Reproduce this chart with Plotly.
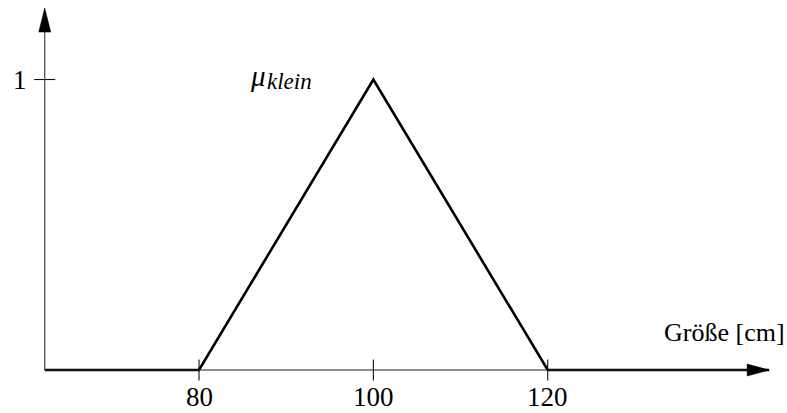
import plotly.graph_objects as go

# Membership function "klein" (triangular) over body height in cm
height_cm = [62.3, 80, 100, 120, 145.4]
membership = [0, 0, 1, 0, 0]

x_ticks = [80, 100, 120]
x_tick_labels = ["80", "100", "120"]
y_ticks = [1]
y_tick_labels = ["1"]

x_label = "Größe [cm]"
curve_symbol = "μ"
curve_name = "klein"

W, H = 787, 413
x_range = [57.17, 147.45]
y_range = [-0.148, 1.2737]
px_x = W / (x_range[1] - x_range[0])   # pixels per cm
px_y = H / (y_range[1] - y_range[0])   # pixels per membership unit

x0 = height_cm[0]          # axis origin
x_tip = height_cm[-1]      # tip of the horizontal arrow
y_tip = 1.246              # tip of the vertical arrow

FONT = "Liberation Serif"
fig = go.Figure()

# axis lines
fig.add_shape(type="line", x0=x0, y0=0, x1=x_tip - 20 / px_x, y1=0,
              line=dict(color="#222", width=1))
fig.add_shape(type="line", x0=x0, y0=0, x1=x0, y1=y_tip - 20 / px_y,
              line=dict(color="#444", width=1.2))

# arrowheads
al, aw = 22, 6
fig.add_shape(type="path", fillcolor="black", line=dict(color="black", width=0.5),
              path=f"M {x_tip} 0 L {x_tip - al / px_x} {aw / px_y} "
                   f"L {x_tip - al / px_x} {-aw / px_y} Z")
al_y = 24
fig.add_shape(type="path", fillcolor="black", line=dict(color="black", width=0.5),
              path=f"M {x0} {y_tip} L {x0 - aw / px_x} {y_tip - al_y / px_y} "
                   f"L {x0 + aw / px_x} {y_tip - al_y / px_y} Z")

# tick marks
fig.add_trace(go.Scatter(x=x_ticks, y=[0] * len(x_ticks), mode="markers",
                         marker=dict(symbol="line-ns-open", size=15, color="#111",
                                     line=dict(color="#111", width=1.1)),
                         hoverinfo="skip", showlegend=False))
fig.add_trace(go.Scatter(x=[x0] * len(y_ticks), y=y_ticks, mode="markers",
                         marker=dict(symbol="line-ew-open", size=15, color="#111",
                                     line=dict(color="#111", width=1.1)),
                         hoverinfo="skip", showlegend=False))

# membership curve
fig.add_trace(go.Scatter(x=height_cm, y=membership, mode="lines",
                         line=dict(color="black", width=2.6),
                         hoverinfo="skip", showlegend=False))

# tick labels
for xv, lab in zip(x_ticks, x_tick_labels):
    fig.add_annotation(x=xv, y=0, text=lab, showarrow=False, yanchor="middle",
                       yshift=-27, font=dict(family=FONT, size=27, color="black"))
for yv, lab in zip(y_ticks, y_tick_labels):
    fig.add_annotation(x=x0, y=yv, text=lab, showarrow=False, xanchor="center",
                       xshift=-25, font=dict(family=FONT, size=27, color="black"))

# axis title
fig.add_annotation(x=1, xref="paper", y=0, yref="y", text=x_label, showarrow=False,
                   xanchor="right", yanchor="middle", yshift=38,
                   font=dict(family=FONT, size=26, color="black"))

# curve name: italic mu with subscript
fig.add_annotation(x=89.3, y=1, text=curve_symbol, showarrow=False,
                   xanchor="right", yanchor="middle", xshift=-12, yshift=4,
                   font=dict(family=FONT, size=29, color="black", style="italic"))
fig.add_annotation(x=89.3, y=1, text=curve_name, showarrow=False,
                   xanchor="left", yanchor="middle", xshift=-15, yshift=-2,
                   font=dict(family=FONT, size=23, color="black", style="italic"))

fig.update_layout(
    width=W, height=H,
    margin=dict(l=0, r=0, t=0, b=0),
    paper_bgcolor="white", plot_bgcolor="white",
    xaxis=dict(range=x_range, visible=False, fixedrange=True),
    yaxis=dict(range=y_range, visible=False, fixedrange=True),
)

fig.write_html("out.html")
